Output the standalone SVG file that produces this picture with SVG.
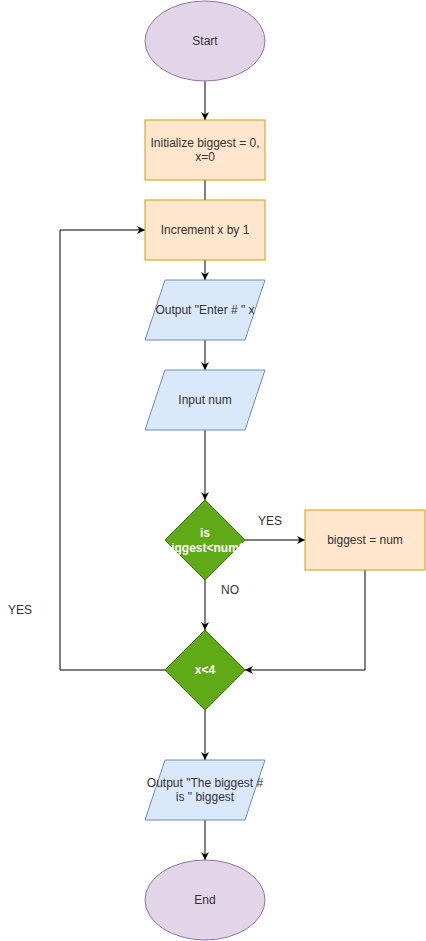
<svg xmlns="http://www.w3.org/2000/svg" width="426" height="941" viewBox="0 0 426 941">
<defs>
<marker id="arr" viewBox="0 0 10 10" refX="10" refY="5" markerWidth="8" markerHeight="8" markerUnits="userSpaceOnUse" orient="auto">
<path d="M0,0 L10,5 L0,10 L3,5 Z" fill="#000"/>
</marker>
</defs>
<style>
.term{fill:#e1d5e7;stroke:#9673a6;stroke-width:1}
.proc{fill:#ffe6cc;stroke:#d79b00;stroke-width:1}
.io{fill:#dae8fc;stroke:#6c8ebf;stroke-width:1}
.dec{fill:#60a917;stroke:#2d7600;stroke-width:1}
.t{font-family:"Liberation Sans",Arial,sans-serif;font-size:12px;fill:#333;text-anchor:middle}
.tw{font-family:"Liberation Sans",Arial,sans-serif;font-size:12px;fill:#fff;font-weight:bold;text-anchor:middle}
.lbl{font-family:"Liberation Sans",Arial,sans-serif;font-size:12px;fill:#333;text-anchor:middle}
.e{fill:none;stroke:#000;stroke-width:1}
</style>
<rect width="426" height="941" fill="#fff"/>
<g id="connectors">
<path class="e" d="M205,81 L205,120" marker-end="url(#arr)"/>
<path class="e" d="M205,180 L205,200"/>
<path class="e" d="M205,260 L205,280" marker-end="url(#arr)"/>
<path class="e" d="M205,340 L205,370" marker-end="url(#arr)"/>
<path class="e" d="M205,430 L205,500" marker-end="url(#arr)"/>
<path class="e" d="M245,540 L305,540" marker-end="url(#arr)"/>
<path class="e" d="M205,580 L205,630" marker-end="url(#arr)"/>
<path class="e" d="M365,570 L365,670 L245,670" marker-end="url(#arr)"/>
<path class="e" d="M165,670 L60,670 L60,230 L145,230" marker-end="url(#arr)"/>
<path class="e" d="M205,710 L205,760" marker-end="url(#arr)"/>
<path class="e" d="M205,820 L205,860" marker-end="url(#arr)"/>
<text class="lbl" x="270" y="525">YES</text>
<text class="lbl" x="230" y="594">NO</text>
<text class="lbl" x="20" y="614">YES</text>
</g>
<g id="start">
<ellipse class="term" cx="205" cy="41" rx="60" ry="40"/>
<text class="t" x="205" y="45">Start</text>
</g>
<g id="init">
<rect class="proc" x="145" y="120" width="120" height="60"/>
<text class="t" x="205" y="147">Initialize biggest = 0,</text>
<text class="t" x="205" y="161">x=0</text>
</g>
<g id="increment">
<rect class="proc" x="145" y="200" width="120" height="60"/>
<text class="t" x="205" y="234">Increment x by 1</text>
</g>
<g id="output-enter">
<polygon class="io" points="165,280 265,280 245,340 145,340"/>
<text class="t" x="205" y="314">Output "Enter # " x</text>
</g>
<g id="input-num">
<polygon class="io" points="165,370 265,370 245,430 145,430"/>
<text class="t" x="205" y="404">Input num</text>
</g>
<g id="decision-biggest">
<polygon class="dec" points="205,500 245,540 205,580 165,540"/>
<text class="tw" x="205" y="537">is</text>
<text class="tw" x="205" y="552">biggest&lt;num?</text>
</g>
<g id="assign-biggest">
<rect class="proc" x="305" y="510" width="120" height="60"/>
<text class="t" x="365" y="544">biggest = num</text>
</g>
<g id="decision-x">
<polygon class="dec" points="205,630 245,670 205,710 165,670"/>
<text class="tw" x="205" y="674">x&lt;4</text>
</g>
<g id="output-biggest">
<polygon class="io" points="165,760 265,760 245,820 145,820"/>
<text class="t" x="205" y="787">Output "The biggest #</text>
<text class="t" x="205" y="801">is " biggest</text>
</g>
<g id="end">
<ellipse class="term" cx="205" cy="900" rx="60" ry="40"/>
<text class="t" x="205" y="904">End</text>
</g>
</svg>
